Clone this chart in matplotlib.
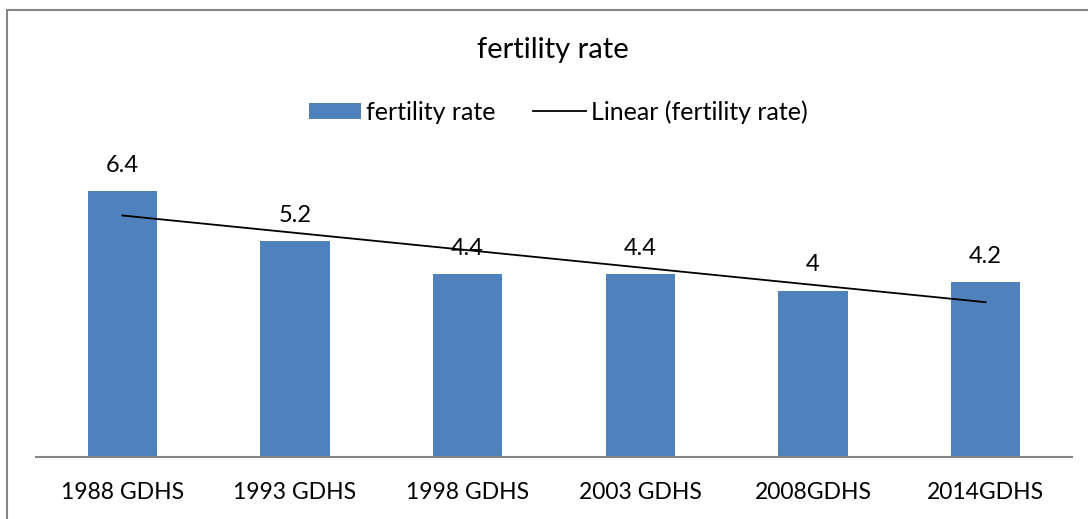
import matplotlib
matplotlib.use("Agg")
import matplotlib.pyplot as plt
import numpy as np
from matplotlib.lines import Line2D
from matplotlib.patches import Patch

categories = ["1988 GDHS", "1993 GDHS", "1998 GDHS", "2003 GDHS", "2008GDHS", "2014GDHS"]
values = [6.4, 5.2, 4.4, 4.4, 4, 4.2]
value_labels = ["6.4", "5.2", "4.4", "4.4", "4", "4.2"]
title = "fertility rate"
series_name = "fertility rate"
trend_name = "Linear (fertility rate)"

plt.rcParams['font.family'] = ['Lato', 'DejaVu Sans']

W, H = 1088, 519
fig = plt.figure(figsize=(W / 100, H / 100), dpi=100)

# chart area border (left and top visible)
fig.add_artist(Line2D([7 / W, 7 / W], [0, 1 - 10 / H], color="#868686", lw=1.5, transform=fig.transFigure))
fig.add_artist(Line2D([7 / W, 1], [1 - 10 / H, 1 - 10 / H], color="#868686", lw=1.5, transform=fig.transFigure))

left, right = 36 / W, 1072 / W
bottom, top = 1 - 457 / H, 1 - 166 / H
ax = fig.add_axes([left, bottom, right - left, top - bottom])

x = np.arange(len(categories))
ax.bar(x, values, width=0.4, color="#4F81BD", zorder=2)

# linear trendline
coef = np.polyfit(x, values, 1)
ax.plot(x, np.polyval(coef, x), color="black", lw=1.3, zorder=3)

for xi, v, lab in zip(x, values, value_labels):
    ax.annotate(lab, (xi, v), xytext=(0, 11), textcoords="offset points",
                ha="center", va="bottom", fontsize=17, color="black", zorder=4)

ax.set_xlim(-0.5, len(categories) - 0.5)
ax.set_ylim(0, 7)
ax.set_xticks(x)
ax.set_xticklabels(categories, fontsize=16.5)
ax.tick_params(axis="x", length=0, pad=18)
ax.set_yticks([])
for s in ["top", "right", "left"]:
    ax.spines[s].set_visible(False)
ax.spines["bottom"].set_color("#868686")
ax.spines["bottom"].set_linewidth(1.5)

fig.text(553 / W, 1 - 50 / H, title, ha="center", va="center", fontsize=21)

handles = [Patch(facecolor="#4F81BD", edgecolor="none"),
           Line2D([0], [0], color="black", lw=1.3)]
fig.legend(handles, [series_name, trend_name], loc="center", bbox_to_anchor=(558 / W, 1 - 112 / H),
           ncol=2, frameon=False, fontsize=18, handlelength=2.1, handleheight=0.6,
           handletextpad=0.2, columnspacing=1.5)

fig.savefig("out.png", dpi=100)
